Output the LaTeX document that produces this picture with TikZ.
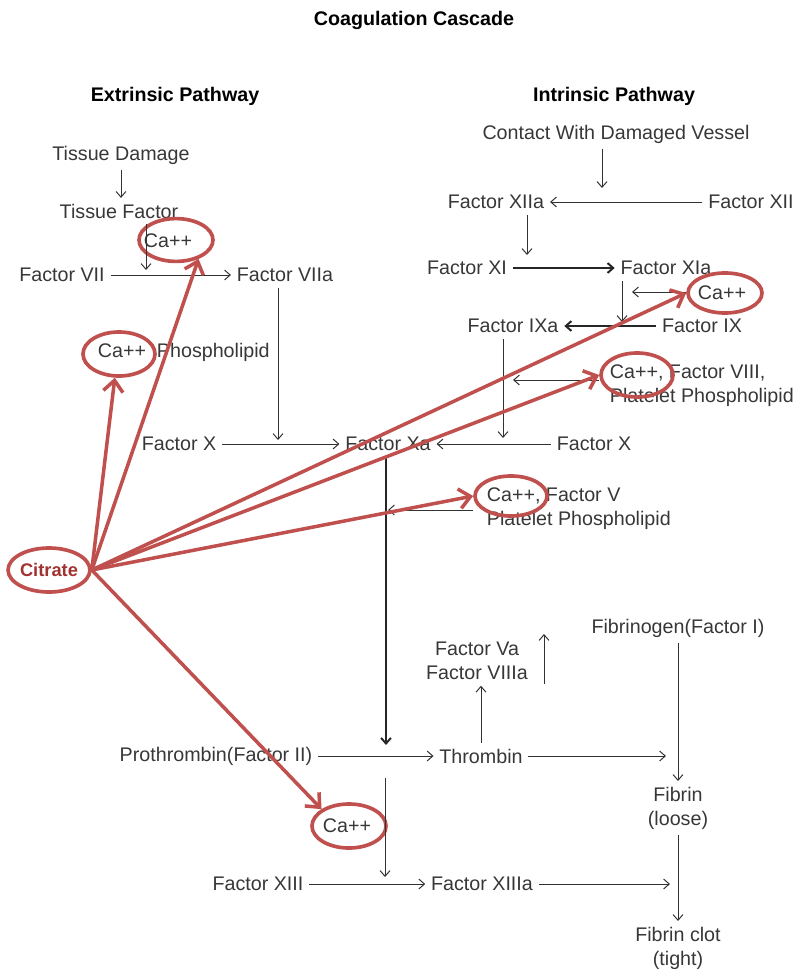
\documentclass[tikz,border=0pt]{standalone}
\usepackage{fontspec}
\setmainfont{Liberation Sans}
\usetikzlibrary{arrows.meta,shapes.geometric}
\definecolor{redc}{RGB}{192,80,77}
\definecolor{citc}{RGB}{160,50,50}
\definecolor{txt}{RGB}{55,55,55}
\definecolor{lnc}{RGB}{50,50,50}
\begin{document}
\begin{tikzpicture}[x=0.025cm,y=-0.025cm,
  lbl/.style={font=\fontsize{14}{17}\selectfont, text=txt, inner sep=4pt, align=center},
  lblw/.style={lbl, align=left, anchor=west},
  hdr/.style={font=\fontsize{14}{17}\selectfont\bfseries, text=black, inner sep=3pt},
  arr/.style={draw=lnc, line width=0.7pt, -{Straight Barb[length=4pt,width=7pt]}},
  tarr/.style={draw=black!85, line width=1.4pt, -{Straight Barb[length=4pt,width=7pt]}},
  redarr/.style={draw=redc, line width=2.5pt, -{Straight Barb[length=8pt,width=14pt,line width=2.5pt]}},
  redell/.style={draw=redc, line width=2.6pt, ellipse, inner sep=0pt},
  citr/.style={font=\fontsize{13}{15}\selectfont\bfseries, text=citc}
]
\useasboundingbox (0,0) rectangle (800,971);

% headings
\node[hdr] (title) at (414,20) {Coagulation Cascade};
\node[hdr] (ext) at (175,96) {Extrinsic Pathway};
\node[hdr] (int) at (614,96) {Intrinsic Pathway};

% extrinsic
\node[lbl] (td) at (121,155) {Tissue Damage};
\node[lbl] (tf) at (119,211) {Tissue Factor};
\node[lbl] (f7) at (62,275) {Factor VII};
\node[lbl] (f7a) at (285,275) {Factor VIIa};
\node[lblw] (caphos) at (92,352) {Ca++ ,Phospholipid};
\node[lbl] (f10L) at (179,444) {Factor X};
\node[lbl] (f10a) at (388,444) {Factor Xa};

% intrinsic
\node[lbl] (cwdv) at (616,134) {Contact With Damaged Vessel};
\node[lbl] (f12a) at (496,202) {Factor XIIa};
\node[lbl] (f12) at (751,202) {Factor XII};
\node[lbl] (f11) at (467,268) {Factor XI};
\node[lbl] (f11a) at (666,268) {Factor XIa};
\node[lbl] (f9a) at (513,326) {Factor IXa};
\node[lbl] (f9) at (702,326) {Factor IX};
\node[lblw] (cof8) at (604,386) {Ca++, Factor VIII,\\Platelet Phospholipid};
\node[lbl] (f10R) at (594,444) {Factor X};
\node[lblw] (cof5) at (481,509) {Ca++, Factor V\\Platelet Phospholipid};
\node[lbl] (caRt) at (722,293) {Ca++};
\node[lbl] (ca1t) at (168,241) {Ca++};

% common
\node[lbl] (pro) at (216,756) {Prothrombin(Factor II)};
\node[lbl] (thr) at (481,756) {Thrombin};
\node[lbl] (f5a) at (477,661) {Factor Va\\Factor VIIIa};
\node[lbl] (fgn) at (678,628) {Fibrinogen(Factor I)};
\node[lbl] (fib) at (678,808) {Fibrin\\(loose)};
\node[lbl] (clot) at (678,948) {Fibrin clot\\(tight)};
\node[lbl] (f13) at (258,884) {Factor XIII};
\node[lbl] (f13a) at (482,884) {Factor XIIIa};
\node[lbl] (caBt) at (347,826) {Ca++};

% red ellipses
\node[redell, minimum width=1.85cm, minimum height=1.07cm] (ca1) at (176,240) {};
\node[redell, minimum width=1.8cm, minimum height=1.1cm] (caP) at (119,354) {};
\node[redell, minimum width=1.85cm, minimum height=1.0cm] (caR) at (725,293) {};
\node[redell, minimum width=1.8cm, minimum height=1.1cm] (caE8) at (637,375) {};
\node[redell, minimum width=1.8cm, minimum height=1.0cm] (caE5) at (511,496) {};
\node[redell, minimum width=1.85cm, minimum height=1.1cm] (caB) at (349,826) {};
\node[redell, minimum width=1.85cm, minimum height=1.1cm, citr] (cit) at (49,570) {Citrate};

% junction coordinates
\coordinate (j1) at (146,270);
\coordinate (j2) at (278,440);
\coordinate (j3) at (602,188);
\coordinate (j4) at (527,255);
\coordinate (j5) at (622,322);
\coordinate (j6) at (632,292);
\coordinate (j7) at (503,438);
\coordinate (j8) at (513,380);
\coordinate (j9) at (386,745);
\coordinate (j10) at (388,510);
\coordinate (j11) at (666,756);
\coordinate (u1) at (544,684);
\coordinate (u2) at (544,634);
\coordinate (d1) at (385,778);
\coordinate (d2) at (385,877);
\coordinate (j14) at (670,884);

% black connectors
\draw[arr] (td.south) -- (td.south |- tf.north);
\draw[arr] (tf.south -| j1) -- (j1);
\draw[arr] (f7) -- (f7a);
\draw[arr] (f7a.south -| j2) -- (j2);
\draw[arr] (f10L) -- (f10a);
\draw[arr] (cwdv.south -| j3) -- (j3);
\draw[arr] (f12) -- (f12a);
\draw[arr] (f12a.south -| j4) -- (j4);
\draw[tarr] (f11) -- (f11a);
\draw[arr] (f11a.south -| j5) -- (j5);
\draw[arr] (caR.west |- j6) -- (j6);
\draw[tarr] (f9) -- (f9a);
\draw[arr] (f9a.south -| j7) -- (j7);
\draw[arr] (caE8.west |- j8) -- (j8);
\draw[arr] (f10R) -- (f10a);
\draw[tarr] (f10a.south -| j9) -- (j9);
\draw[arr] (caE5.west |- j10) -- (j10);
\draw[arr] (pro) -- (thr);
\draw[arr] (thr.north) -- (thr.north |- f5a.south);
\draw[arr] (u1) -- (u2);
\draw[arr] (thr) -- (j11);
\draw[arr] (fgn) -- (fib);
\draw[arr] (fib) -- (clot);
\draw[arr] (d1) -- (d2);
\draw[arr] (f13) -- (f13a);
\draw[arr] (f13a) -- (j14);

% red connectors from citrate
\draw[redarr] (cit.east) -- (ca1.-40);
\draw[redarr] (cit.east) -- (caP.-100);
\draw[redarr] (cit.east) -- (caR.west);
\draw[redarr] (cit.east) -- (caE8.west);
\draw[redarr] (cit.east) -- (caE5.west);
\draw[redarr] (cit.east) -- (caB.north west);
\end{tikzpicture}
\end{document}
